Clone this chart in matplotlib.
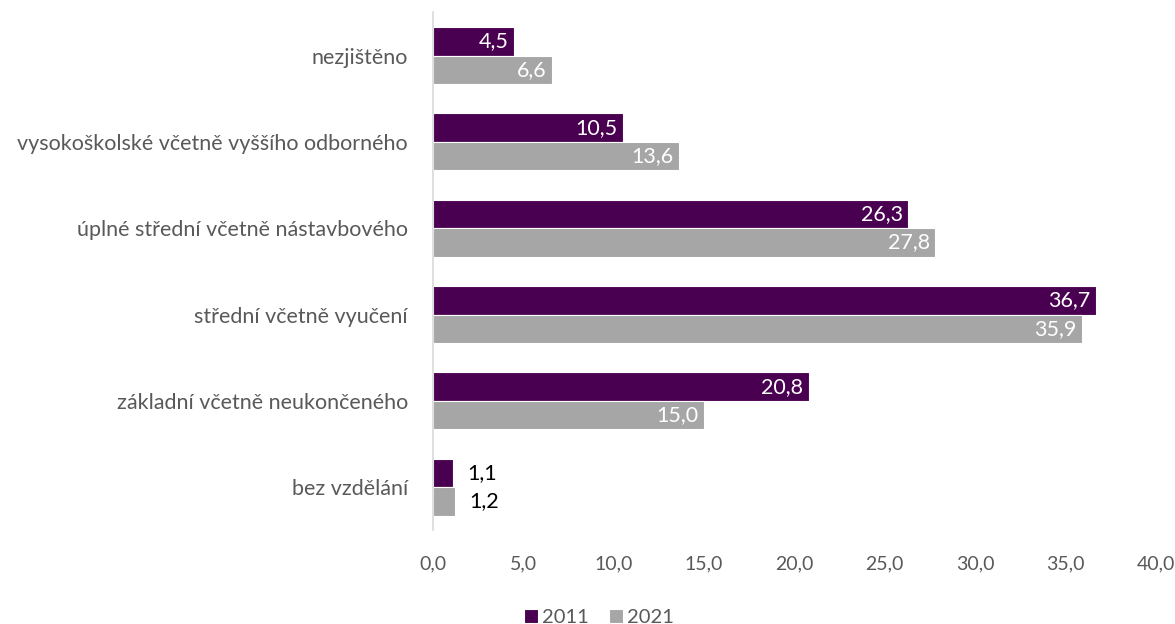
import numpy as np
import matplotlib.pyplot as plt

plt.rcParams['font.family'] = ['Lato', 'DejaVu Sans']

categories = ['bez vzdělání', 'základní včetně neukončeného', 'střední včetně vyučení',
              'úplné střední včetně nástavbového', 'vysokoškolské včetně vyššího odborného',
              'nezjištěno']
vals_2011 = [1.1, 20.8, 36.7, 26.3, 10.5, 4.5]
vals_2021 = [1.2, 15.0, 35.9, 27.8, 13.6, 6.6]
years = ['2011', '2021']
xticks = [0, 5, 10, 15, 20, 25, 30, 35, 40]

c2011 = '#4a0050'
c2021 = '#a6a6a6'
fs = 15.5

fig = plt.figure(figsize=(11.75, 6.24), dpi=100)
ax = fig.add_axes([0.3685, 0.150, 0.615, 0.830])

y = np.arange(len(categories))
h = 0.33
b1 = ax.barh(y + h / 2, vals_2011, height=h, color=c2011, edgecolor='white', linewidth=0.8, label=years[0])
b2 = ax.barh(y - h / 2, vals_2021, height=h, color=c2021, edgecolor='white', linewidth=0.8, label=years[1])

def fmt(v):
    return f'{v:.1f}'.replace('.', ',')

for bars, vals in [(b1, vals_2011), (b2, vals_2021)]:
    for bar, v in zip(bars, vals):
        cy = bar.get_y() + bar.get_height() / 2
        if v < 3:
            ax.text(v + 0.8, cy, fmt(v), ha='left', va='center', fontsize=fs, color='black')
        else:
            ax.text(v - 0.3, cy, fmt(v), ha='right', va='center', fontsize=fs, color='white')

ax.set_xlim(0, 40)
ax.set_ylim(-0.5, len(categories) - 0.5)
ax.set_xticks(xticks)
ax.set_xticklabels([fmt(t) for t in xticks], fontsize=14, color='#595959')
ax.set_yticks(y)
ax.set_yticklabels(categories, fontsize=fs, color='#595959')
ax.tick_params(length=0)
ax.tick_params(axis='y', pad=18)
ax.tick_params(axis='x', pad=18)

for s in ['top', 'right', 'bottom']:
    ax.spines[s].set_visible(False)
ax.spines['left'].set_color('#d9d9d9')
ax.spines['left'].set_linewidth(1.2)

fig.legend(handles=[b1, b2], labels=years, loc='center', bbox_to_anchor=(0.51, 0.011),
           ncol=2, frameon=False, fontsize=14.5, handlelength=0.7, handleheight=0.7,
           handletextpad=0.2, columnspacing=1.0, labelcolor='#595959', borderpad=0)

fig.savefig('out.png', dpi=100)
